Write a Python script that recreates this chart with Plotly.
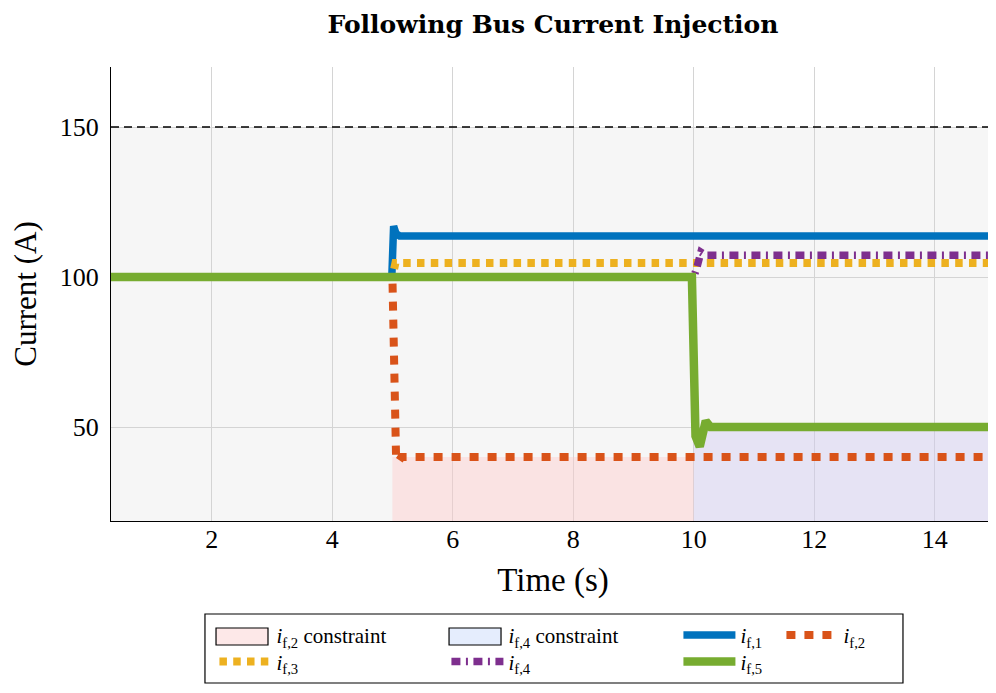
import plotly.graph_objects as go

# ---- data ----
t_if1 = [0.33, 4.99, 5.02, 5.06, 5.12, 15.0]
v_if1 = [100, 100, 117, 114.5, 113.7, 113.7]

t_if2 = [0.33, 5.0, 5.06, 5.1, 5.15, 15.0]
v_if2 = [100, 100, 40.5, 38.5, 40, 40]

t_if3 = [0.33, 5.0, 5.05, 15.0]
v_if3 = [100, 100, 104.7, 104.7]

t_if4 = [0.33, 10.0, 10.05, 10.12, 10.2, 15.0]
v_if4 = [100, 100, 103, 108.3, 107.3, 107.3]

t_if5 = [0.33, 9.97, 10.03, 10.1, 10.2, 10.28, 15.0]
v_if5 = [100, 100, 47, 43.5, 52, 50, 50]

c2_x = [5, 10]          # i_f,2 constraint window
c2_limit = 40
c4_x = [10, 15]         # i_f,4 constraint window
c4_limit = 50
i_max = 150

x_range = [0.33, 15.0]
y_range = [18.7, 170]
x_ticks = [2, 4, 6, 8, 10, 12, 14]
y_ticks = [50, 100, 150]

FONT = "Liberation Serif"
W, H = 988, 677          # page adds an 8px body margin
ML, MR, MT, MB = 103, 1, 59, 164

fig = go.Figure()

# constraint regions (plot area)
fig.add_trace(go.Scatter(
    x=[c2_x[0], c2_x[1], c2_x[1], c2_x[0], c2_x[0]],
    y=[y_range[0], y_range[0], c2_limit, c2_limit, y_range[0]],
    fill="toself", fillcolor="rgba(255,200,200,0.42)",
    line=dict(color="rgba(0,0,0,0)", width=0), mode="lines",
    showlegend=False, hoverinfo="skip"))
fig.add_trace(go.Scatter(
    x=[c4_x[0], c4_x[1], c4_x[1], c4_x[0], c4_x[0]],
    y=[y_range[0], y_range[0], c4_limit, c4_limit, y_range[0]],
    fill="toself", fillcolor="rgba(207,200,240,0.42)",
    line=dict(color="rgba(0,0,0,0)", width=0), mode="lines",
    showlegend=False, hoverinfo="skip"))

# legend entries for the constraint regions (box symbols drawn as shapes)
fig.add_trace(go.Scatter(x=[None], y=[None], mode="lines",
    line=dict(color="rgba(0,0,0,0)", width=1),
    name="<i>i</i><sub>f,2</sub> constraint", legend="legend", legendwidth=165))
fig.add_trace(go.Scatter(x=[None], y=[None], mode="lines",
    line=dict(color="rgba(0,0,0,0)", width=1),
    name="<i>i</i><sub>f,4</sub> constraint", legend="legend", legendwidth=165))

fig.add_trace(go.Scatter(x=t_if1, y=v_if1, mode="lines",
    line=dict(color="#0072BD", width=7.5),
    name="<i>i</i><sub>f,1</sub>", legend="legend", legendwidth=36))
fig.add_trace(go.Scatter(x=t_if2, y=v_if2, mode="lines",
    line=dict(color="#D95319", width=8, dash="9px,9px"),
    name="<i>i</i><sub>f,2</sub>", legend="legend", legendwidth=36))
fig.add_trace(go.Scatter(x=t_if3, y=v_if3, mode="lines",
    line=dict(color="#EDB120", width=8, dash="7.5px,6.3px"),
    name="<i>i</i><sub>f,3</sub>", legend="legend2", legendwidth=165))
fig.add_trace(go.Scatter(x=t_if4, y=v_if4, mode="lines",
    line=dict(color="#7E2F8E", width=7.5, dash="9px,5.5px,2px,5.5px"),
    name="<i>i</i><sub>f,4</sub>", legend="legend2", legendwidth=165))
fig.add_trace(go.Scatter(x=t_if5, y=v_if5, mode="lines",
    line=dict(color="#77AC30", width=8.5),
    name="<i>i</i><sub>f,5</sub>", legend="legend2", legendwidth=36))

# grey admissible region and max current line
fig.add_shape(type="rect", xref="paper", x0=0, x1=1, yref="y",
              y0=y_range[0] - 10, y1=i_max, fillcolor="#f6f6f6",
              line=dict(width=0), layer="below")
fig.add_shape(type="line", xref="paper", x0=0, x1=1, yref="y",
              y0=i_max, y1=i_max, line=dict(color="black", width=1.3, dash="8px,5px"))

# legend frame and constraint swatches
fig.add_shape(type="rect", xref="paper", yref="paper",
              x0=0.1063, x1=0.8959, y0=-0.3568, y1=-0.2048,
              line=dict(color="black", width=1.2), fillcolor="rgba(0,0,0,0)")
fig.add_shape(type="rect", xref="paper", yref="paper",
              x0=0.1188, x1=0.1776, y0=-0.2731, y1=-0.2357,
              line=dict(color="black", width=1.2), fillcolor="#fde8e8")
fig.add_shape(type="rect", xref="paper", yref="paper",
              x0=0.3824, x1=0.4412, y0=-0.2731, y1=-0.2357,
              line=dict(color="black", width=1.2), fillcolor="#e5edfd")

legend_common = dict(orientation="h", xanchor="left", yanchor="middle",
                     bgcolor="rgba(0,0,0,0)", borderwidth=0,
                     font=dict(family=FONT, size=21, color="black"),
                     itemwidth=52, traceorder="normal")

fig.update_layout(
    width=W, height=H,
    margin=dict(l=ML, r=MR, t=MT, b=MB),
    paper_bgcolor="white", plot_bgcolor="white",
    font=dict(family=FONT, color="black"),
    title=dict(text="<b>Following Bus Current Injection</b>",
               x=0.5, xref="paper", xanchor="center",
               y=1 - 16 / H, yref="container", yanchor="middle",
               font=dict(family="DejaVu Serif", size=25, color="black")),
    legend=dict(x=0.117, y=-0.252, **legend_common),
    legend2=dict(x=0.117, y=-0.31, **legend_common),
    showlegend=True,
)

fig.update_xaxes(range=x_range, tickvals=x_ticks, showgrid=True,
                 gridcolor="#d4d4d4", gridwidth=1, zeroline=False,
                 showline=True, linecolor="black", linewidth=1.2,
                 ticks="", ticklen=0, ticklabelstandoff=-5,
                 tickfont=dict(family=FONT, size=26, color="black"),
                 title=dict(text="Time (s)", standoff=14,
                            font=dict(family=FONT, size=33, color="black")))
fig.update_yaxes(range=y_range, tickvals=y_ticks, showgrid=True,
                 gridcolor="#d4d4d4", gridwidth=1, zeroline=False,
                 showline=True, linecolor="black", linewidth=1.2,
                 ticks="outside", ticklen=6, tickcolor="rgba(0,0,0,0)",
                 tickfont=dict(family=FONT, size=26, color="black"),
                 title=dict(text="Current (A)", standoff=14,
                            font=dict(family=FONT, size=31, color="black")))

fig.write_html("out.html")
